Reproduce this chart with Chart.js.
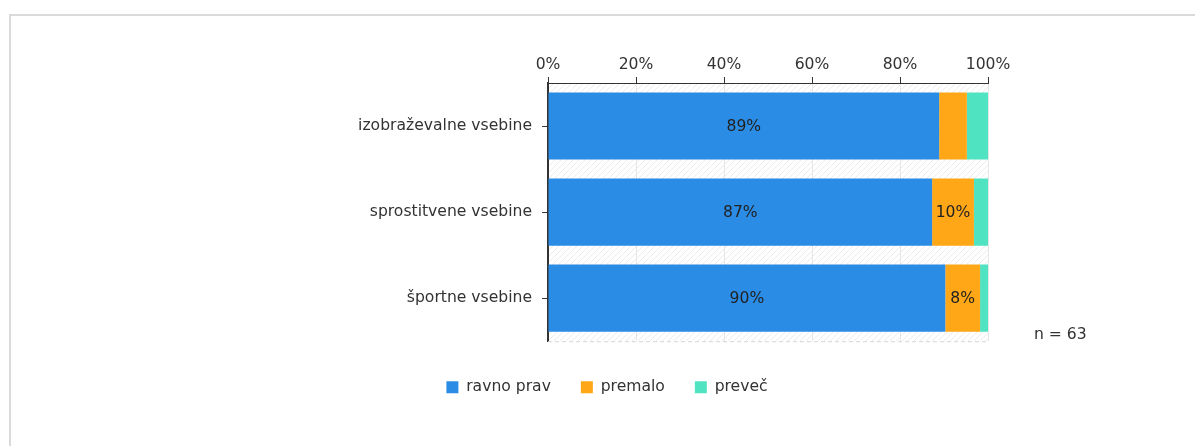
<!DOCTYPE html>
<html>
<head>
<meta charset="utf-8">
<script src="https://cdn.jsdelivr.net/npm/chart.js@4"></script>
<style>
  html, body { margin: 0; padding: 0; background: #fff; overflow: hidden; }
  #frame { position: absolute; left: 9px; top: 14px; width: 1200px; height: 450px;
           border-left: 2px solid #dadada; border-top: 2px solid #dadada; }
  #wrap { position: absolute; left: 0; top: 0; width: 1195px; height: 446px; }
</style>
</head>
<body>
<div id="frame"></div>
<div id="wrap"><canvas id="chart"></canvas></div>
<script>
// ── data ─────────────────────────────────────────
const categories = ["izobraževalne vsebine", "sprostitvene vsebine", "športne vsebine"];
const ravnoPrav  = [88.9, 87.3, 90.3];
const premalo    = [6.3, 9.5, 7.9];
const prevec     = [4.8, 3.2, 1.8];
const xTicks     = [0, 20, 40, 60, 80, 100];
const sampleNote = "n = 63";

const FONT = "'DejaVu Sans', Verdana, sans-serif";
const FS   = 15.6;
const TEXT = "#333";

// hatched plot background + dashed bottom line + n label
const hatchBg = {
    id: "hatchBg",
    beforeDraw(chart) {
        const { ctx, chartArea: a } = chart;
        ctx.save();
        ctx.beginPath();
        ctx.rect(a.left, a.top, a.right - a.left, a.bottom - a.top);
        ctx.clip();
        ctx.strokeStyle = "#ebebeb";
        ctx.lineWidth = 1;
        const h = a.bottom - a.top;
        for (let x = a.left - h; x < a.right; x += 6) {
            ctx.beginPath();
            ctx.moveTo(x, a.bottom);
            ctx.lineTo(x + h, a.top);
            ctx.stroke();
        }
        ctx.restore();
    },
    afterDraw(chart) {
        const { ctx, chartArea: a } = chart;
        ctx.save();
        ctx.strokeStyle = "#d6d6d6";
        ctx.setLineDash([4, 3]);
        ctx.beginPath();
        ctx.moveTo(a.left, a.bottom + 0.5);
        ctx.lineTo(a.right, a.bottom + 0.5);
        ctx.stroke();
        ctx.setLineDash([]);
        ctx.fillStyle = TEXT;
        ctx.font = FS + "px " + FONT;
        ctx.textAlign = "left";
        ctx.textBaseline = "middle";
        ctx.fillText(sampleNote, a.right + 46, a.bottom - 6);
        ctx.restore();
    }
};

// value labels inside segments
const segLabels = {
    id: "segLabels",
    afterDatasetsDraw(chart) {
        const { ctx } = chart;
        ctx.save();
        ctx.fillStyle = "#222";
        ctx.font = FS + "px " + FONT;
        ctx.textAlign = "center";
        ctx.textBaseline = "middle";
        chart.data.datasets.forEach((ds, i) => {
            chart.getDatasetMeta(i).data.forEach((el, j) => {
                const v = ds.data[j];
                if (v < 7) return;
                ctx.fillText(Math.round(v) + "%", (el.x + el.base) / 2, el.y + 1);
            });
        });
        ctx.restore();
    }
};

new Chart(document.getElementById("chart"), {
    type: "bar",
    data: {
        labels: categories,
        datasets: [
            { label: "ravno prav", data: ravnoPrav, backgroundColor: "#2a8ce4" },
            { label: "premalo",    data: premalo,   backgroundColor: "#ffa716" },
            { label: "preveč",     data: prevec,    backgroundColor: "#50e3c2" },
        ],
    },
    options: {
        indexAxis: "y",
        responsive: true,
        maintainAspectRatio: false,
        animation: false,
        categoryPercentage: 1,
        barPercentage: 0.78,
        layout: { padding: { left: 226, right: 207, top: 53, bottom: 41 } },
        plugins: {
            tooltip: { enabled: false },
            legend: {
                position: "bottom",
                title: { display: true, text: " ", font: { size: 1 }, padding: { top: 0, bottom: 7 } },
                labels: {
                    color: TEXT,
                    font: { family: FONT, size: FS },
                    boxWidth: 12, boxHeight: 12,
                    padding: 30,
                },
            },
        },
        scales: {
            x: {
                position: "top",
                stacked: true,
                min: 0, max: 100,
                afterBuildTicks: s => { s.ticks = xTicks.map(v => ({ value: v })); },
                afterFit: s => { s.height = 30; },
                ticks: { color: TEXT, font: { family: FONT, size: FS }, padding: 3, callback: v => v + "%" },
                grid: { color: "#e6e6e6", tickColor: "#333", tickLength: 6, lineWidth: 1 },
                border: { color: "#333", width: 1 },
            },
            y: {
                stacked: true,
                afterFit: s => { s.width = 322; },
                ticks: { color: TEXT, font: { family: FONT, size: FS }, padding: 10 },
                grid: { drawOnChartArea: false, offset: false, tickColor: "#333", tickLength: 6 },
                border: { color: "#333", width: 2 },
            },
        },
    },
    plugins: [hatchBg, segLabels],
});
</script>
</body>
</html>
